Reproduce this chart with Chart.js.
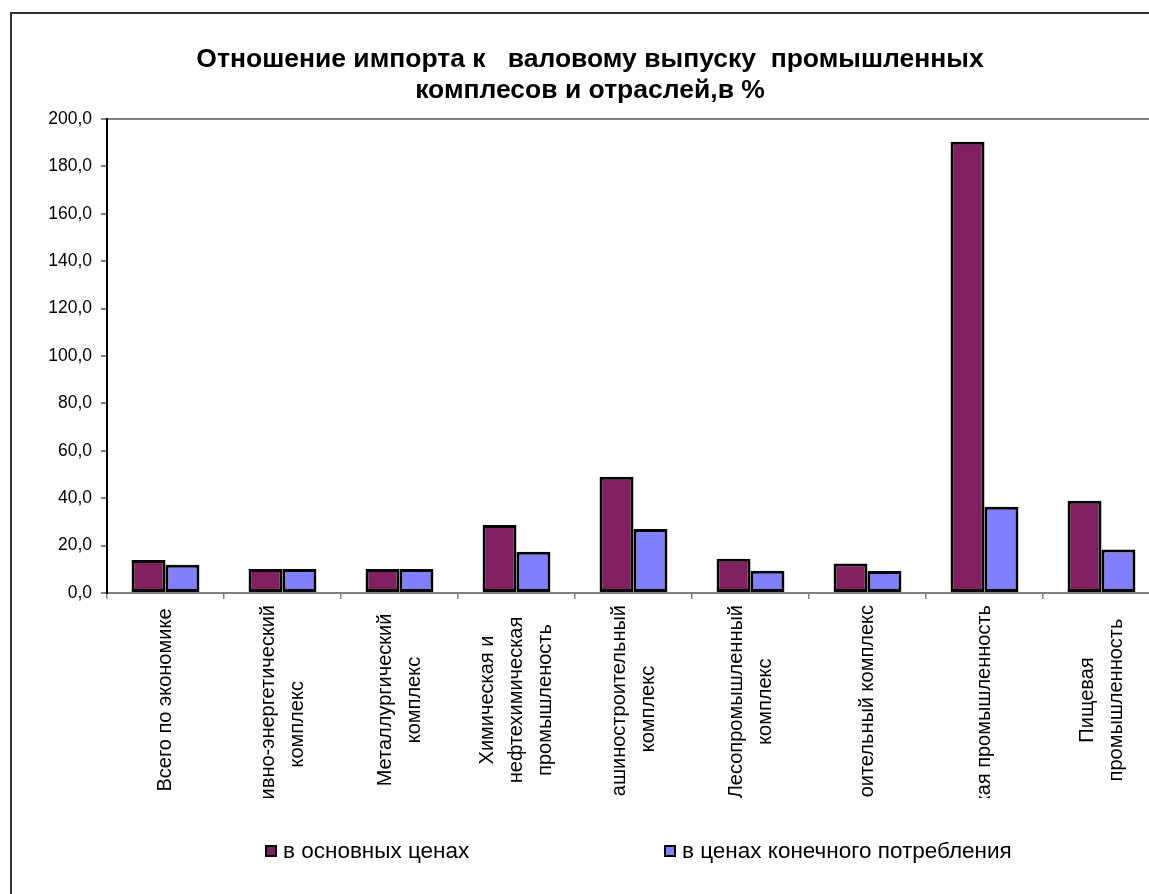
<!DOCTYPE html>
<html lang="ru">
<head>
<meta charset="utf-8">
<title>Отношение импорта к валовому выпуску</title>
<script src="https://cdn.jsdelivr.net/npm/chart.js@4"></script>
<style>
  html, body { margin: 0; padding: 0; background: #fff; overflow: hidden; }
  #wrap { position: absolute; left: 0; top: 0; width: 1180px; height: 894px; }
</style>
</head>
<body>
<div id="wrap"><canvas id="grafico"></canvas></div>
<script>
// отрасли (подписи по оси X, построчно)
const categories = [
  ["Всего по экономике"],
  ["Топливно-энергетический", "комплекс"],
  ["Металлургический", "комплекс"],
  ["Химическая и", "нефтехимическая", "промышленость"],
  ["Машиностроительный", "комплекс"],
  ["Лесопромышленный", "комплекс"],
  ["Строительный комплекс"],
  ["Легкая промышленность"],
  ["Пищевая", "промышленность"]
];

// отношение импорта к выпуску, %
const basicPrices = [13.9, 10.1, 10.1, 28.7, 49.1, 14.5, 12.4, 190.4, 38.9];
const finalPrices = [11.9, 10.1, 10.1, 17.4, 27.0, 9.4, 9.3, 36.4, 18.4];

const seriesNames = ["в основных ценах", "в ценах конечного потребления"];
const yTicks = [0, 20, 40, 60, 80, 100, 120, 140, 160, 180, 200];

const FONT = '"Liberation Sans", Arial, sans-serif';

// рамка и белый фон
const framePlugin = {
  id: 'frame',
  beforeDraw(chart) {
    const c = chart.ctx;
    c.save();
    c.fillStyle = '#fff';
    c.fillRect(0, 0, chart.width, chart.height);
    c.strokeStyle = '#333';
    c.lineWidth = 2;
    c.beginPath();
    c.moveTo(11, chart.height + 5);
    c.lineTo(11, 13);
    c.lineTo(chart.width + 5, 13);
    c.stroke();
    c.restore();
  }
};

// повернутые подписи категорий: короткие по центру, длинные от оси и обрезаются снизу
const catLabels = {
  id: 'catLabels',
  afterDraw(chart) {
    const c = chart.ctx;
    const x = chart.scales.x;
    const top = chart.chartArea.bottom + 12;
    const room = 190;
    const step = 29;
    c.save();
    c.font = '20px ' + FONT;
    c.fillStyle = '#000';
    c.textBaseline = 'middle';
    c.textAlign = 'center';
    chart.data.labels.forEach((lines, i) => {
      const cx = x.getPixelForValue(i);
      const maxW = Math.max(...lines.map(l => c.measureText(l).width));
      const mid = maxW <= room ? top + room / 2 : top + maxW / 2;
      c.save();
      c.beginPath();
      c.rect(cx - 58, top - 6, 117, 199);
      c.clip();
      c.translate(cx, mid);
      c.rotate(-Math.PI / 2);
      lines.forEach((l, k) => {
        c.fillText(l, 0, (k - (lines.length - 1) / 2) * step);
      });
      c.restore();
    });
    c.restore();
  }
};

// легенда внизу
const bottomLegend = {
  id: 'bottomLegend',
  afterDraw(chart) {
    const c = chart.ctx;
    const pos = [266, 665];
    const y = 851;
    c.save();
    c.font = '22.5px ' + FONT;
    c.textBaseline = 'middle';
    c.textAlign = 'left';
    chart.data.datasets.forEach((ds, i) => {
      c.fillStyle = ds.backgroundColor;
      c.fillRect(pos[i], y - 5, 10, 10);
      c.strokeStyle = '#000';
      c.lineWidth = 2;
      c.strokeRect(pos[i], y - 5, 10, 10);
      c.fillStyle = '#000';
      c.fillText(ds.label, pos[i] + 17, y + 1);
    });
    c.restore();
  }
};

const ctx = document.getElementById('grafico').getContext('2d');

new Chart(ctx, {
  type: 'bar',
  data: {
    labels: categories,
    datasets: [
      {
        label: seriesNames[0],
        data: basicPrices,
        backgroundColor: '#802060',
        borderColor: '#000',
        borderWidth: 3,
        borderSkipped: false
      },
      {
        label: seriesNames[1],
        data: finalPrices,
        backgroundColor: '#8080FF',
        borderColor: '#000',
        borderWidth: 3,
        borderSkipped: false
      }
    ]
  },
  options: {
    responsive: true,
    maintainAspectRatio: false,
    animation: false,
    datasets: {
      bar: { barPercentage: 1, categoryPercentage: 0.58 }
    },
    layout: { padding: { left: 20, right: 20, top: 0, bottom: 0 } },
    plugins: {
      legend: { display: false },
      tooltip: { enabled: false },
      title: {
        display: true,
        text: ["Отношение импорта к   валовому выпуску  промышленных", "комплесов и отраслей,в %"],
        color: '#000',
        font: { family: FONT, size: 26.5, weight: 'bold', lineHeight: 1.17 },
        padding: { top: 44, bottom: 13 }
      }
    },
    scales: {
      x: {
        grid: {
          offset: true,
          drawOnChartArea: false,
          color: '#808080',
          tickColor: '#808080',
          tickLength: 6,
          lineWidth: 1.5
        },
        border: { color: '#808080', width: 2 },
        ticks: { display: false },
        afterFit(scale) { scale.height = 301; }
      },
      y: {
        min: 0,
        max: 200,
        afterBuildTicks(scale) { scale.ticks = yTicks.map(v => ({ value: v })); },
        grid: {
          color: c => c.tick && c.tick.value === 200 ? '#808080' : 'transparent',
          tickColor: '#808080',
          tickLength: 6,
          lineWidth: 2
        },
        border: { color: '#000', width: 2 },
        ticks: {
          color: '#000',
          padding: 9,
          font: { family: FONT, size: 17.5 },
          callback: v => v.toFixed(1).replace('.', ',')
        },
        afterFit(scale) { scale.width = 87; }
      }
    }
  },
  plugins: [framePlugin, catLabels, bottomLegend]
});
</script>
</body>
</html>
